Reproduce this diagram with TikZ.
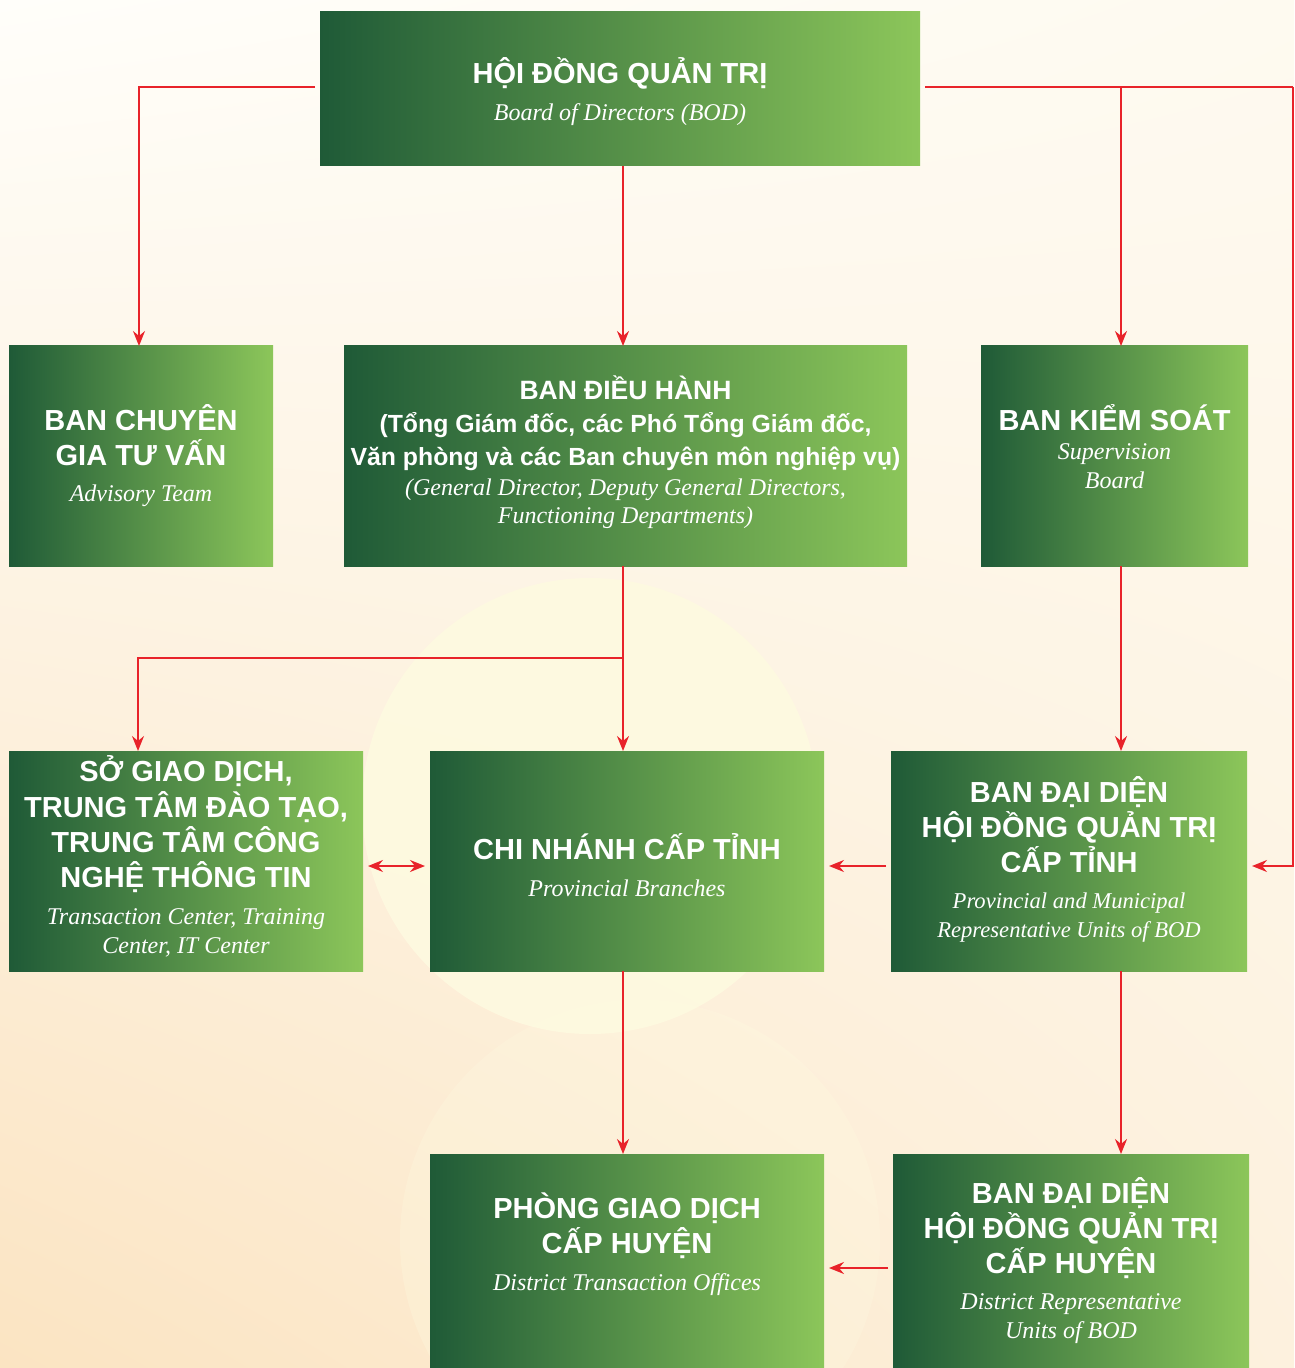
\documentclass[tikz,border=0pt]{standalone}
\usepackage{fontspec}
\setmainfont{Liberation Serif}
\newfontfamily\hdfont{Liberation Sans}
\usetikzlibrary{fit,arrows.meta,calc,shadings}
\definecolor{gdark}{HTML}{1F5A37}
\definecolor{glight}{HTML}{8CC65A}
\definecolor{arred}{HTML}{E8232A}
\definecolor{bgtop}{HTML}{FFFEFA}
\definecolor{bgtr}{HTML}{FEFAF0}
\definecolor{bgbot}{HTML}{FDF1DE}
\definecolor{bgside}{HTML}{FBE4C2}
\definecolor{bgcirc}{HTML}{FEFAE0}
\newcommand\BxTitle[1]{{\hdfont\bfseries\fontsize{14.5}{0}\selectfont #1}}
\newcommand\BxMid[1]{{\hdfont\bfseries\fontsize{13.25}{0}\selectfont #1}}
\newcommand\BxSub[1]{{\hdfont\bfseries\fontsize{12.4}{0}\selectfont #1}}
\newcommand\BxIt[1]{{\itshape\fontsize{12}{0}\selectfont #1}}
\newcommand\BxItS[1]{{\itshape\fontsize{11.3}{0}\selectfont #1}}
\tikzset{
  box/.style={inner sep=0pt, outer sep=0pt, left color=gdark, right color=glight},
  txt/.style={inner sep=0pt, text=white, align=center, font=\fontsize{12}{0}\selectfont},
  arr/.style={draw=arred, line width=1pt, -{Stealth[length=7.5pt,width=6pt,inset=2.5pt]}},
  darr/.style={draw=arred, line width=1pt, {Stealth[length=7.5pt,width=6pt,inset=2.5pt]}-{Stealth[length=7.5pt,width=6pt,inset=2.5pt]}},
  gap/.style={shorten <=2.5pt, shorten >=2.5pt}
}
\begin{document}
\lineskiplimit=-1000pt
\normallineskiplimit=-1000pt
\begin{tikzpicture}[x=0.5pt,y=-0.5pt]
\useasboundingbox (0,0) rectangle (1294,1368);
% background
\shade[upper left=bgtop, upper right=bgtr, lower left=bgside, lower right=bgbot] (0,0) rectangle (1294,1368);
\fill[bgcirc, opacity=0.3] (640,1240) circle (240);
\fill[bgcirc, opacity=0.9] (590,806) circle (228);

% boxes
\node[box, fit={(320,12) (920,166)}] (bod) {};
\node[box, fit={(9,346) (273,566)}] (adv) {};
\node[box, fit={(344,346) (907,566)}] (bdh) {};
\node[box, fit={(981,346) (1248,566)}] (bks) {};
\node[box, fit={(9,751) (363,971)}] (sgd) {};
\node[box, fit={(430,751) (824,971)}] (cn) {};
\node[box, fit={(891,751) (1247,971)}] (bdt) {};
\node[box, fit={(430,1154) (824,1368)}] (pgd) {};
\node[box, fit={(893,1154) (1249,1368)}] (bdh2) {};

% texts
\node[txt, yshift=-1.5pt] (bodT) at (bod)
  {\BxTitle{HỘI ĐỒNG QUẢN TRỊ}\\[18.5pt]\BxIt{Board of Directors (BOD)}};
\node[txt, yshift=0pt] (advT) at (adv)
  {\BxTitle{BAN CHUYÊN}\\[17.5pt]\BxTitle{GIA TƯ VẤN}\\[18pt]\BxIt{Advisory Team}};
\node[txt, yshift=1.75pt] (bdhT) at (bdh)
  {\BxMid{BAN ĐIỀU HÀNH}\\[16.5pt]\BxSub{(Tổng Giám đốc, các Phó Tổng Giám đốc,}\\[16.5pt]%
   \BxSub{Văn phòng và các Ban chuyên môn nghiệp vụ)}\\[15pt]%
   \BxIt{(General Director, Deputy General Directors,}\\[14pt]\BxIt{Functioning Departments)}};
\node[txt, yshift=4.75pt] (bksT) at (bks)
  {\BxTitle{BAN KIỂM SOÁT}\\[14.5pt]\BxIt{Supervision}\\[14.5pt]\BxIt{Board}};
\node[txt, yshift=2.25pt] (sgdT) at (sgd)
  {\BxTitle{SỞ GIAO DỊCH,}\\[17.6pt]\BxTitle{TRUNG TÂM ĐÀO TẠO,}\\[17.6pt]%
   \BxTitle{TRUNG TÂM CÔNG}\\[17.6pt]\BxTitle{NGHỆ THÔNG TIN}\\[18.5pt]%
   \BxIt{Transaction Center, Training}\\[14.5pt]\BxIt{Center, IT Center}};
\node[txt, yshift=-2.25pt] (cnT) at (cn)
  {\BxTitle{CHI NHÁNH CẤP TỈNH}\\[18.5pt]\BxIt{Provincial Branches}};
\node[txt, yshift=1pt] (bdtT) at (bdt)
  {\BxTitle{BAN ĐẠI DIỆN}\\[17.5pt]\BxTitle{HỘI ĐỒNG QUẢN TRỊ}\\[17.5pt]\BxTitle{CẤP TỈNH}\\[18pt]%
   \BxItS{Provincial and Municipal}\\[14.5pt]\BxItS{Representative Units of BOD}};
\node[txt, yshift=8.5pt] (pgdT) at (pgd)
  {\BxTitle{PHÒNG GIAO DỊCH}\\[17.5pt]\BxTitle{CẤP HUYỆN}\\[18.5pt]\BxIt{District Transaction Offices}};
\node[txt, yshift=0pt] (bdh2T) at (bdh2)
  {\BxTitle{BAN ĐẠI DIỆN}\\[17.5pt]\BxTitle{HỘI ĐỒNG QUẢN TRỊ}\\[17.5pt]\BxTitle{CẤP HUYỆN}\\[18pt]%
   \BxIt{District Representative}\\[14.5pt]\BxIt{Units of BOD}};

% junction coordinates
\coordinate (ax) at (139,87);
\coordinate (rx) at (1293,87);
\coordinate (kx) at (1121,87);
\coordinate (mx) at (623,658);
\coordinate (sx) at (138,658);
\coordinate (hy) at (0,866);
\coordinate (hy2) at (0,1268);

% connectors
\draw[arr, shorten <=2.5pt] (bod.west |- ax) -- (ax) -- (ax |- adv.north);
\draw[arr] (mx |- bod.south) -- (mx |- bdh.north);
\draw[draw=arred, line width=1pt, shorten <=2.5pt] (bod.east |- rx) -- (rx);
\draw[arr, shorten >=2.5pt] (rx) |- (bdt.east |- hy);
\draw[arr] (kx) -- (kx |- bks.north);
\draw[arr] (kx |- bks.south) -- (kx |- bdt.north);
\draw[arr] (kx |- bdt.south) -- (kx |- bdh2.north);
\draw[arr] (mx |- bdh.south) -- (mx |- cn.north);
\draw[arr] (mx) -- (sx) -- (sx |- sgd.north);
\draw[arr] (mx |- cn.south) -- (mx |- pgd.north);
\draw[darr, gap] (sgd.east |- hy) -- (cn.west |- hy);
\draw[arr, gap] (bdt.west |- hy) -- (cn.east |- hy);
\draw[arr, gap] (bdh2.west |- hy2) -- (pgd.east |- hy2);
\end{tikzpicture}
\end{document}
